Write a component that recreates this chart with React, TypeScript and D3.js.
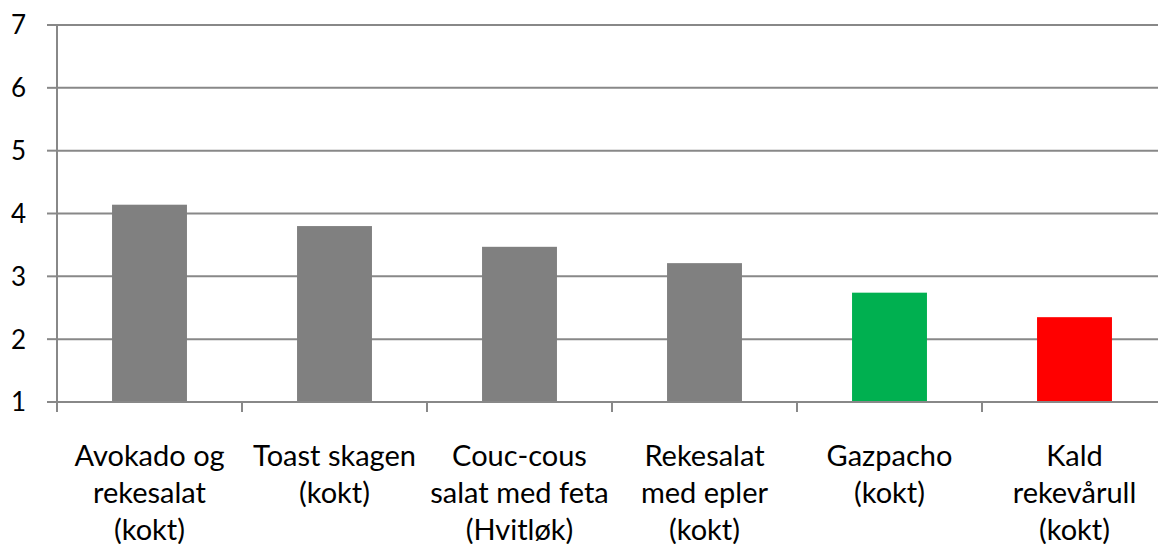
import React, { useEffect, useRef } from "react";
import * as d3 from "d3";

const categories = [
  ["Avokado og", "rekesalat", "(kokt)"],
  ["Toast skagen", "(kokt)"],
  ["Couc-cous", "salat med feta", "(Hvitløk)"],
  ["Rekesalat", "med epler", "(kokt)"],
  ["Gazpacho", "(kokt)"],
  ["Kald", "rekevårull", "(kokt)"],
];
const values = [4.14, 3.8, 3.47, 3.21, 2.74, 2.35];
const barColors = ["#808080", "#808080", "#808080", "#808080", "#00B050", "#FF0000"];
const yTicks = [1, 2, 3, 4, 5, 6, 7];

const BarChart = () => {
  const svgRef = useRef<SVGSVGElement>(null);

  useEffect(() => {
    const svg = d3.select(svgRef.current);
    svg.selectAll("*").remove();

    const width = 1158;
    const height = 544;
    const margin = { top: 25, left: 57, bottom: 402 };
    const bandWidth = 185;
    const gridColor = "#888888";
    const font = "Lato, 'Open Sans', sans-serif";

    const x = d3
      .scaleBand()
      .domain(categories.map((_, i) => String(i)))
      .range([margin.left, margin.left + bandWidth * categories.length])
      .paddingInner(0.595)
      .paddingOuter(0.2975);

    const y = d3.scaleLinear().domain([1, 7]).range([margin.bottom, margin.top]);

    svg.attr("width", width).attr("height", height);

    // gridlines
    svg
      .append("g")
      .selectAll("line")
      .data(yTicks.slice(1))
      .join("line")
      .attr("x1", margin.left)
      .attr("x2", width)
      .attr("y1", (d) => y(d))
      .attr("y2", (d) => y(d))
      .attr("stroke", gridColor)
      .attr("stroke-width", 2);

    // bars
    svg
      .append("g")
      .selectAll("rect")
      .data(values)
      .join("rect")
      .attr("x", (_, i) => x(String(i))!)
      .attr("width", x.bandwidth())
      .attr("y", (d) => y(d))
      .attr("height", (d) => y(1) - y(d))
      .attr("fill", (_, i) => barColors[i]);

    // y axis
    const yAxis = svg.append("g");
    yAxis
      .append("line")
      .attr("x1", margin.left)
      .attr("x2", margin.left)
      .attr("y1", margin.top)
      .attr("y2", margin.bottom + 1)
      .attr("stroke", gridColor)
      .attr("stroke-width", 2);
    yAxis
      .selectAll("line.tick")
      .data(yTicks)
      .join("line")
      .attr("class", "tick")
      .attr("x1", margin.left - 10)
      .attr("x2", margin.left)
      .attr("y1", (d) => y(d))
      .attr("y2", (d) => y(d))
      .attr("stroke", gridColor)
      .attr("stroke-width", 2);
    yAxis
      .selectAll("text")
      .data(yTicks)
      .join("text")
      .attr("x", 26)
      .attr("y", (d) => y(d))
      .attr("dy", "0.36em")
      .attr("text-anchor", "end")
      .attr("font-family", font)
      .attr("font-size", 26)
      .attr("fill", "#000")
      .text((d) => d);

    // x axis
    const xAxis = svg.append("g");
    xAxis
      .append("line")
      .attr("x1", margin.left)
      .attr("x2", width)
      .attr("y1", margin.bottom)
      .attr("y2", margin.bottom)
      .attr("stroke", gridColor)
      .attr("stroke-width", 2);
    xAxis
      .selectAll("line.tick")
      .data(d3.range(categories.length + 1))
      .join("line")
      .attr("class", "tick")
      .attr("x1", (i) => margin.left + i * bandWidth)
      .attr("x2", (i) => margin.left + i * bandWidth)
      .attr("y1", margin.bottom)
      .attr("y2", margin.bottom + 10)
      .attr("stroke", gridColor)
      .attr("stroke-width", 2);

    const labels = xAxis
      .selectAll("text")
      .data(categories)
      .join("text")
      .attr("text-anchor", "middle")
      .attr("font-family", font)
      .attr("font-size", 29)
      .attr("fill", "#000");
    labels
      .selectAll("tspan")
      .data((d, i) => d.map((line) => ({ line, i })))
      .join("tspan")
      .attr("x", (d) => x(String(d.i))! + x.bandwidth() / 2)
      .attr("y", (_, j) => 466 + j * 37)
      .text((d) => d.line);
  }, []);

  return <svg ref={svgRef} style={{ position: "absolute", left: 0, top: 0 }}></svg>;
};

export default function App() {
  return <BarChart />;
}
